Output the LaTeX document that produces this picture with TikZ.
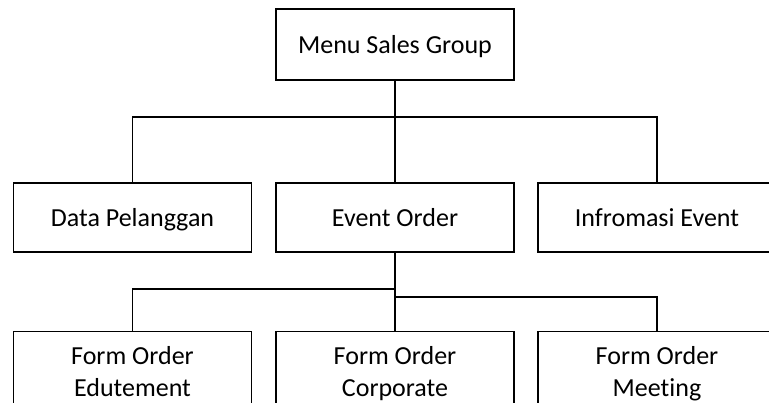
\documentclass[tikz,border=0pt]{standalone}
\usepackage{fontspec}
\setmainfont{Carlito}[Ligatures=NoCommon]
\begin{document}
\begin{tikzpicture}[x=1pt,y=-1pt,
  menubox/.style={draw=black, line width=1.5pt, minimum width=238pt, inner sep=0pt,
    align=center, font=\fontsize{26}{32}\selectfont},
  toplevel/.style={menubox, minimum height=70pt, text height=18pt, text depth=0pt},
  sublevel/.style={menubox, minimum height=90pt,
    execute at begin node=\strut, execute at end node=\strut},
  link/.style={draw=black, line width=1.5pt}]
\useasboundingbox (0,0) rectangle (769,403);

% root menu
\node[toplevel, minimum height=71pt] (root) at (395,44.5) {Menu Sales Group};

% second level
\node[toplevel, minimum height=69pt] (dp) at (132.5,217.5) {Data Pelanggan};
\node[toplevel, minimum height=69pt] (eo) at (395,217.5) {Event Order};
\node[toplevel, minimum height=69pt] (ie) at (657,217.5) {Infromasi Event};

% third level (under Event Order)
\node[sublevel] (fe) at (132.5,376.6) {Form Order\\Edutement};
\node[sublevel] (fc) at (395,376.6) {Form Order\\Corporate};
\node[sublevel] (fm) at (657,376.6) {Form Order\\Meeting};

% junction points
\coordinate (bus) at (395,117);
\coordinate (busL) at (395,289);
\coordinate (busR) at (395,297);

% connectors
\draw[link] (root.south) -- (bus);
\draw[link] (dp.north) |- (bus) -| (ie.north);
\draw[link] (bus) -- (eo.north);
\draw[link] (eo.south) -- (fc.north);
\draw[link] (fe.north) |- (busL);
\draw[link] (fm.north) |- (busR);
\end{tikzpicture}
\end{document}
